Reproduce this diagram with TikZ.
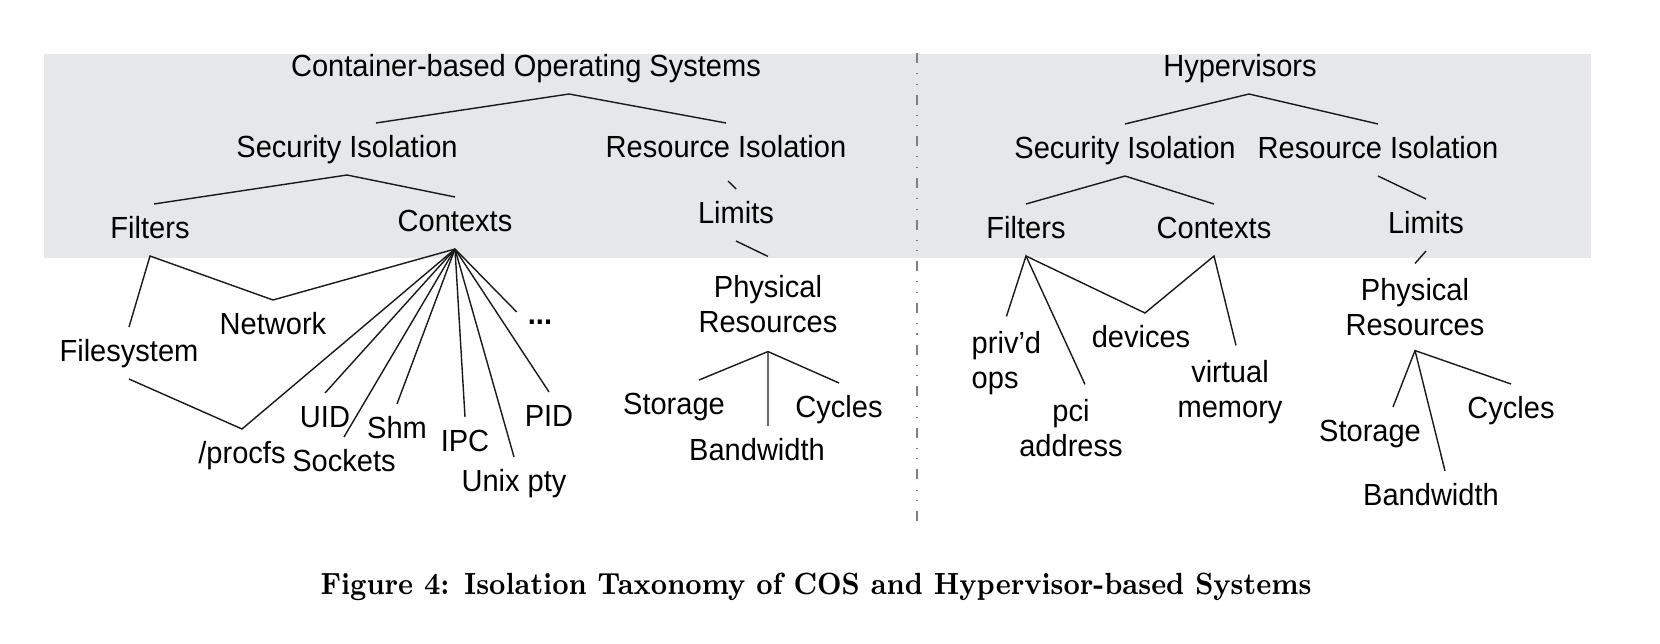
\documentclass[tikz,border=0pt]{standalone}
\usepackage{fontspec}
\usepackage{tikz}
\usepackage{graphicx}
\newfontfamily\diafont{Liberation Sans}[FakeStretch=0.95]
\definecolor{boxgray}{HTML}{E6E7E8}

\tikzset{
    lbl/.style={font={\fontsize{8.7}{10}\diafont}, inner xsep=1pt, inner ysep=3.1pt, text height=6.4pt, text depth=1.8pt},
    lbltwo/.style={font={\fontsize{8.7}{10}\diafont}, align=center, inner xsep=1pt, inner ysep=4pt},
    branch/.style={line width=0.4pt, draw=black!90},
}

\begin{document}
\begin{tikzpicture}
    \useasboundingbox (0,0) rectangle (16.6,-6.44);
    \fill[boxgray] (0.44,-0.54) rectangle (15.91,-2.58);
    \draw[gray, line width=0.5pt, dash pattern=on 2.85pt off 2.85pt on 0.3pt off 2.7pt on 0.3pt off 2.85pt] (9.17,-0.53) -- (9.17,-5.27);

    % container-based side
    \node[lbl] (cos) at (5.26,-0.68) {Container-based Operating Systems};
    \node[lbl] (secL) at (3.47,-1.49) {Security Isolation};
    \node[lbl] (resL) at (7.26,-1.49) {Resource Isolation};
    \node[lbl] (filL) at (1.50,-2.30) {Filters};
    \node[lbl] (ctxL) at (4.55,-2.23) {Contexts};
    \node[lbl] (limL) at (7.36,-2.15) {Limits};
    \node[lbltwo] (phyL) at (7.68,-3.04) {Physical\\Resources};
    \node[lbl] (stoL) at (6.74,-4.06) {Storage};
    \node[lbl] (bwL) at (7.57,-4.52) {Bandwidth};
    \node[lbl] (cycL) at (8.39,-4.09) {Cycles};
    \node[lbl] (fsL) at (1.29,-3.53) {Filesystem};
    \node[lbl] (netL) at (2.73,-3.26) {Network};
    \node[lbl] (procL) at (2.42,-4.55) {/procfs};
    \node[lbl] (uidL) at (3.25,-4.19) {UID};
    \node[lbl] (sockL) at (3.44,-4.63) {Sockets};
    \node[lbl] (shmL) at (3.97,-4.30) {Shm};
    \node[lbl] (ipcL) at (4.65,-4.43) {IPC};
    \node[lbl] (ptyL) at (5.14,-4.83) {Unix pty};
    \node[lbl] (pidL) at (5.49,-4.18) {PID};
    \node[lbl] (dotsL) at (5.40,-3.16) {\bfseries...};

    \draw[branch] ([xshift=0.29cm]secL.north) -- ([xshift=0.43cm]cos.south) -- (resL.north);
    \draw[branch] ([xshift=0.04cm]filL.north) -- (secL.south) -- (ctxL.north);
    \draw[branch] ([shift={(0.02,-0.06)}]resL.south) -- (limL.north);
    \draw[branch] (limL.south) -- ([yshift=0.04cm]phyL.north);
    \draw[branch] ([xshift=0.25cm]stoL.north) -- ([yshift=-0.04cm]phyL.south) -- (cycL.north);
    \draw[branch] ([yshift=-0.04cm]phyL.south) -- ([xshift=0.11cm]bwL.north);
    \draw[branch] (fsL.north) -- (filL.south) -- (netL.north) -- (ctxL.south);
    \draw[branch] (fsL.south) -- (procL.north) -- (ctxL.south);
    \foreach \leaf in {uidL,sockL,shmL,ipcL,ptyL,pidL}
        \draw[branch] (ctxL.south) -- (\leaf.north);
    \draw[branch] (ctxL.south) -- ([shift={(-0.07,0.04)}]dotsL.west);

    % hypervisor side
    \node[lbl] (hyp) at (12.40,-0.68) {Hypervisors};
    \node[lbl] (secR) at (11.25,-1.50) {Security Isolation};
    \node[lbl] (resR) at (13.78,-1.50) {Resource Isolation};
    \node[lbl] (filR) at (10.26,-2.30) {Filters};
    \node[lbl] (ctxR) at (12.14,-2.30) {Contexts};
    \node[lbl] (limR) at (14.26,-2.25) {Limits};
    \node[lbltwo] (phyR) at (14.15,-3.07) {Physical\\Resources};
    \node[lbl] (stoR) at (13.70,-4.33) {Storage};
    \node[lbl] (bwR) at (14.31,-4.97) {Bandwidth};
    \node[lbl] (cycR) at (15.11,-4.10) {Cycles};
    \node[lbltwo, align=left, anchor=west] (privR) at (9.675,-3.63) {priv’d\\ops};
    \node[lbltwo] (pciR) at (10.71,-4.28) {pci\\address};
    \node[lbl] (devR) at (11.41,-3.39) {devices};
    \node[lbltwo] (vmR) at (12.30,-3.92) {virtual\\memory};

    \draw[branch] (secR.north) -- ([xshift=0.09cm]hyp.south) -- (resR.north);
    \draw[branch] (filR.north) -- (secR.south) -- (ctxR.north);
    \draw[branch] (resR.south) -- (limR.north);
    \draw[branch] (limR.south) -- (phyR.north);
    \draw[branch] ([xshift=0.23cm]stoR.north) -- (phyR.south) -- (cycR.north);
    \draw[branch] (phyR.south) -- ([xshift=0.14cm]bwR.north);
    \draw[branch] (privR.north) -- (filR.south) -- ([xshift=0.14cm]pciR.north);
    \draw[branch] (filR.south) -- ([xshift=0.04cm]devR.north) -- (ctxR.south) -- ([xshift=0.06cm]vmR.north);

    \node[font={\fontsize{8.3}{10}\selectfont\bfseries}] (cap) at (8.16,-5.87) {\scalebox{0.915}[1.05]{Figure 4: Isolation Taxonomy of COS and Hypervisor-based Systems}};
\end{tikzpicture}
\end{document}
